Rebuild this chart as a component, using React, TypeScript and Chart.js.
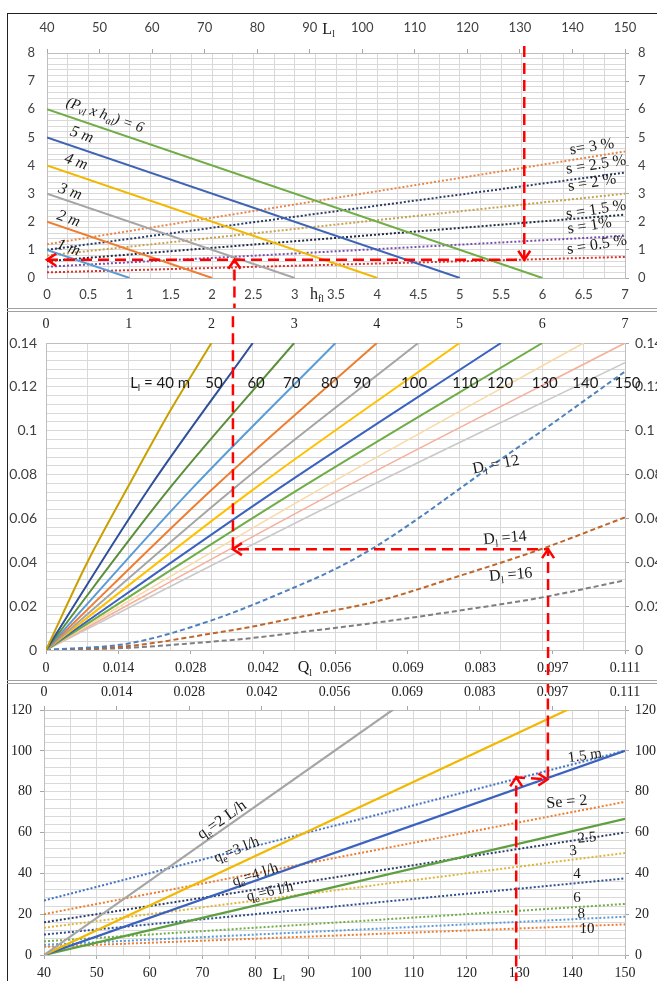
import React, { useEffect, useRef } from 'react';
import { Chart, registerables } from 'chart.js';
Chart.register(...registerables);

// ================= DATA =================
// --- Top panel: (P_vl x h_al) lines, value on y axis at h=0 and h where y=0
const pvhNames = ['1 m', '2 m', '3 m', '4 m', '5 m', '6'];
const pvhYAtH0 = [1, 2, 3, 4, 5, 6];
const pvhHAtY0 = [1, 2, 3, 4, 5, 6];
// --- Top panel: slope lines (against L_l), y at L=40 and at L=150
const slopeNames = ['0.5 %', '1 %', '1.5 %', '2 %', '2.5 %', '3 %'];
const slopeYAtL40 = [0.2, 0.4, 0.6, 0.8, 1.0, 1.2];
const slopeYAtL150 = [0.75, 1.5, 2.25, 3.0, 3.75, 4.5];
// --- Top panel guide lines
const topGuideH = [5.78, 5.78, 0];
const topGuideY = [8.25, 0.65, 0.65];
const topGuide2H = [2.27, 2.27];
const topGuide2Y = [-1.3, 0.65];

// --- Middle panel: L_l curves (x = h_fl, y)
const lLengths = [40, 50, 60, 70, 80, 90, 100, 110, 120, 130, 140, 150];
const lCurveH = [
  [0, 0.5, 1, 1.5, 2],
  [0, 1.25, 2.5],
  [0, 1.5, 3],
  [0, 1.75, 3.5],
  [0, 2, 4],
  [0, 2.25, 4.5],
  [0, 2.5, 5],
  [0, 2.75, 5.5],
  [0, 3, 6],
  [0, 3.25, 6.5],
  [0, 3.5, 7],
  [0, 3.5, 7],
];
const lCurveY = [
  [0, 0.04, 0.075, 0.109, 0.14],
  [0, 0.074, 0.14],
  [0, 0.074, 0.14],
  [0, 0.073, 0.14],
  [0, 0.073, 0.14],
  [0, 0.073, 0.14],
  [0, 0.073, 0.14],
  [0, 0.072, 0.14],
  [0, 0.072, 0.14],
  [0, 0.072, 0.14],
  [0, 0.072, 0.14],
  [0, 0.067, 0.131],
];
// --- Middle panel: D_l curves
const d12H = [0, 1, 2, 3, 3.5, 4, 4.5, 5, 5.5, 6, 6.5, 7];
const d12Y = [0, 0.003, 0.0135, 0.0285, 0.037, 0.0475, 0.06, 0.0735, 0.087, 0.1, 0.1135, 0.127];
const d14H = [0, 1, 2, 2.5, 3, 4, 5, 6, 7];
const d14Y = [0, 0.0018, 0.0075, 0.0107, 0.0146, 0.0222, 0.0338, 0.0462, 0.0605];
const d16H = [0, 1, 2, 2.5, 3, 4, 5, 6, 7];
const d16Y = [0, 0.001, 0.0038, 0.0055, 0.0078, 0.0125, 0.018, 0.024, 0.0318];
// --- Middle panel guide
const midGuideH = [2.26, 2.26, 6.07, 6.07];
const midGuideY = [0.16, 0.046, 0.046, -0.016];

// --- Q_l axis ticks (shared by middle-bottom and bottom-top axes)
const qTickValues = [0, 0.013875, 0.02775, 0.041625, 0.0555, 0.069375, 0.08325, 0.097125, 0.111];
const qTickLabels = ['0', '0.014', '0.028', '0.042', '0.056', '0.069', '0.083', '0.097', '0.111'];

// --- Bottom panel: q_e lines from (40, 0), value at L=150
const qeNames = ['2 L/h', '3 l/h', '4 l/h', '6 l/h'];
const qeYAtL40 = [0, 0, 0, 0];
const qeYAtL150 = [200, 133.3, 100, 66.7];
// --- Bottom panel: Se lines
const seNames = ['1.5 m', '2', '2.5', '3', '4', '6', '8', '10'];
const seYAtL40 = [26.7, 20, 16, 13.3, 10, 6.7, 5, 4];
const seYAtL150 = [100, 75, 60, 50, 37.5, 25, 18.75, 15];
// --- Bottom panel guides
const botGuideL = [129.4, 129.4, 135.3];
const botGuideY = [-14, 87, 86];
const botGuide2L = [135.4, 135.4];
const botGuide2Y = [134, 86];

// ================= STYLE =================
const SANS = 'Lato, "Noto Sans", sans-serif';
const SERIF = '"Liberation Serif", "DejaVu Serif", serif';
const GRID = '#D9D9D9';
const BORDER = '#BFBFBF';
const RED = '#FF0000';

const pvhColors = ['#5B9BD5', '#ED7D31', '#A5A5A5', '#F2B800', '#3F64B5', '#70AD47'];
const slopeColors = ['#E0302A', '#7A4FB0', '#1F2A44', '#C8A24A', '#2A3B66', '#E8864A'];
const lColors = ['#C9A000', '#2F4F9A', '#5A8F3A', '#5B9BD5', '#ED7D31', '#A5A5A5', '#FFC000', '#3A62BE', '#70AD47', '#F9D9A8', '#F4B09A', '#C9C9C9'];
const dColors = ['#4F81BD', '#C0662A', '#7F7F7F'];
const qeColors = ['#A5A5A5', '#F2B800', '#3A62BE', '#5EA040'];
const seColors = ['#4472C4', '#ED7D31', '#2A3B66', '#E0B43A', '#2F4F8F', '#70AD47', '#5B9BD5', '#ED7D31'];

type Note = { x: number; y: number; t: string; rot: number; size: number; font: string; italic?: boolean; xs: string; color?: string };
type Arrow = { x: number; y: number; dir: string; xs: string };

const topNotes: Note[] = [
  { x: 0.7, y: 5.78, t: '(P_{vl} x h_{al}) = 6', rot: 19, size: 15, font: SERIF, italic: true, xs: 'h' },
  { x: 0.42, y: 5.09, t: '5 m', rot: 19, size: 16, font: SERIF, italic: true, xs: 'h' },
  { x: 0.35, y: 4.13, t: '4 m', rot: 19, size: 16, font: SERIF, italic: true, xs: 'h' },
  { x: 0.28, y: 3.06, t: '3 m', rot: 19, size: 16, font: SERIF, italic: true, xs: 'h' },
  { x: 0.26, y: 2.1, t: '2 m', rot: 19, size: 16, font: SERIF, italic: true, xs: 'h' },
  { x: 0.26, y: 1.07, t: '1 m', rot: 19, size: 16, font: SERIF, italic: true, xs: 'h' },
  { x: 6.6, y: 4.66, t: 's= 3 %', rot: -9, size: 16, font: SERIF, xs: 'h' },
  { x: 6.65, y: 4.02, t: 's = 2.5 %', rot: -9, size: 16, font: SERIF, xs: 'h' },
  { x: 6.6, y: 3.38, t: 's = 2 %', rot: -9, size: 16, font: SERIF, xs: 'h' },
  { x: 6.65, y: 2.42, t: 's = 1.5 %', rot: -9, size: 16, font: SERIF, xs: 'h' },
  { x: 6.57, y: 1.85, t: 's = 1%', rot: -9, size: 16, font: SERIF, xs: 'h' },
  { x: 6.66, y: 1.17, t: 's = 0.5 %', rot: -9, size: 16, font: SERIF, xs: 'h' },
  { x: 93.6, y: 8.83, t: 'L_{l}', rot: 0, size: 16, font: SERIF, xs: 'L' },
  { x: 3.27, y: -0.6, t: 'h_{fl}', rot: 0, size: 16, font: SERIF, xs: 'h' },
];
const topArrows: Arrow[] = [
  { x: 5.78, y: 0.65, dir: 'down', xs: 'h' },
  { x: 0, y: 0.65, dir: 'left', xs: 'h' },
  { x: 2.27, y: 0.65, dir: 'up', xs: 'h' },
];

const midNoteXs = [1.38, 2.03, 2.54, 2.97, 3.43, 3.82, 4.45, 5.07, 5.49, 6.03, 6.52, 7.03];
const midNotes: Note[] = lLengths
  .map((L, i) => ({ x: midNoteXs[i], y: 0.1215, t: i === 0 ? 'L_{l} = 40 m' : String(L), rot: 0, size: 15, font: SANS, xs: 'h' } as Note))
  .concat([
    { x: 5.44, y: 0.0844, t: 'D_{l} = 12', rot: -11, size: 16, font: SERIF, xs: 'h' },
    { x: 5.55, y: 0.051, t: 'D_{l} =14', rot: -5, size: 16, font: SERIF, xs: 'h' },
    { x: 5.62, y: 0.0342, t: 'D_{l} =16', rot: -5, size: 16, font: SERIF, xs: 'h' },
    { x: 3.13, y: -0.0083, t: 'Q_{l}', rot: 0, size: 16, font: SERIF, xs: 'h' },
  ]);
const midArrows: Arrow[] = [
  { x: 2.26, y: 0.046, dir: 'left', xs: 'h' },
  { x: 6.07, y: 0.046, dir: 'up', xs: 'h' },
];

const botNotes: Note[] = [
  { x: 73.7, y: 66.1, t: 'q_{e}=2 L/h', rot: -35, size: 16, font: SERIF, xs: 'L' },
  { x: 76.5, y: 51.4, t: 'q_{e}=3 l/h', rot: -22, size: 15, font: SERIF, xs: 'L' },
  { x: 80, y: 39.2, t: 'q_{e}=4 l/h', rot: -18, size: 15, font: SERIF, xs: 'L' },
  { x: 82.8, y: 30.9, t: 'q_{e}=6 l/h', rot: -13, size: 15, font: SERIF, xs: 'L' },
  { x: 142.4, y: 97.5, t: '1.5 m', rot: -8, size: 15, font: SERIF, xs: 'L' },
  { x: 139, y: 74.9, t: 'Se = 2', rot: -5, size: 16, font: SERIF, xs: 'L' },
  { x: 142.8, y: 57.3, t: '2.5', rot: -5, size: 15, font: SERIF, xs: 'L' },
  { x: 140.2, y: 50.9, t: '3', rot: -5, size: 15, font: SERIF, xs: 'L' },
  { x: 140.9, y: 39.7, t: '4', rot: 0, size: 15, font: SERIF, xs: 'L' },
  { x: 140.9, y: 27.9, t: '6', rot: 0, size: 15, font: SERIF, xs: 'L' },
  { x: 141.7, y: 20.1, t: '8', rot: 0, size: 15, font: SERIF, xs: 'L' },
  { x: 142.8, y: 12.7, t: '10', rot: 0, size: 15, font: SERIF, xs: 'L' },
  { x: 84.5, y: -9.8, t: 'L_{l}', rot: 0, size: 16, font: SERIF, xs: 'L' },
];
const botArrows: Arrow[] = [
  { x: 129.4, y: 87, dir: 'up', xs: 'L' },
  { x: 135.3, y: 86, dir: 'right', xs: 'L' },
];

// ================= HELPERS =================
function parseRich(t: string) {
  const parts: { t: string; sub: boolean }[] = [];
  const re = /_\{([^}]*)\}/g;
  let last = 0;
  let m: RegExpExecArray | null = re.exec(t);
  while (m) {
    if (m.index > last) parts.push({ t: t.slice(last, m.index), sub: false });
    parts.push({ t: m[1], sub: true });
    last = m.index + m[0].length;
    m = re.exec(t);
  }
  if (last < t.length) parts.push({ t: t.slice(last), sub: false });
  return parts;
}

function drawRich(ctx: CanvasRenderingContext2D, n: Note, px: number, py: number) {
  const parts = parseRich(n.t);
  const f = (sub: boolean) => (n.italic ? 'italic ' : '') + (sub ? Math.round(n.size * 0.65) : n.size) + 'px ' + n.font;
  ctx.save();
  ctx.translate(px, py);
  ctx.rotate((n.rot * Math.PI) / 180);
  let w = 0;
  parts.forEach((p) => { ctx.font = f(p.sub); w += ctx.measureText(p.t).width; });
  let x = -w / 2;
  ctx.textBaseline = 'middle';
  ctx.textAlign = 'left';
  ctx.fillStyle = n.color || '#1a1a1a';
  parts.forEach((p) => {
    ctx.font = f(p.sub);
    ctx.fillText(p.t, x, p.sub ? n.size * 0.3 : 0);
    x += ctx.measureText(p.t).width;
  });
  ctx.restore();
}

function drawArrow(ctx: CanvasRenderingContext2D, px: number, py: number, dir: string) {
  const ang = dir === 'right' ? 0 : dir === 'down' ? Math.PI / 2 : dir === 'left' ? Math.PI : -Math.PI / 2;
  ctx.save();
  ctx.translate(px, py);
  ctx.rotate(ang);
  ctx.strokeStyle = RED;
  ctx.lineWidth = 2.5;
  ctx.setLineDash([]);
  ctx.beginPath();
  ctx.moveTo(-9, -6);
  ctx.lineTo(0, 0);
  ctx.lineTo(-9, 6);
  ctx.stroke();
  ctx.restore();
}

function annotPlugin(notes: Note[], arrows: Arrow[]) {
  return {
    id: 'annot',
    afterDatasetsDraw(chart: any) {
      const ctx = chart.ctx as CanvasRenderingContext2D;
      const ys = chart.scales.y;
      arrows.forEach((a) => drawArrow(ctx, chart.scales[a.xs].getPixelForValue(a.x), ys.getPixelForValue(a.y), a.dir));
      notes.forEach((n) => drawRich(ctx, n, chart.scales[n.xs].getPixelForValue(n.x), ys.getPixelForValue(n.y)));
    },
  };
}

const pts = (xs: number[], ys: number[]) => xs.map((x, i) => ({ x: x, y: ys[i] }));
const near = (v: number, step: number) => Math.abs(v / step - Math.round(v / step)) < 1e-6;
const fmt = (v: number) => String(parseFloat(v.toFixed(4)));
const NONE = 'rgba(0,0,0,0)';

function line(data: any[], color: string, xAxisID: string, extra?: any) {
  return Object.assign({ data: data, borderColor: color, backgroundColor: color, borderWidth: 2, pointRadius: 0, showLine: true, xAxisID: xAxisID, yAxisID: 'y', fill: false }, extra || {});
}
function guide(data: any[], xAxisID: string) {
  return line(data, RED, xAxisID, { borderWidth: 2.5, borderDash: [11, 6], clip: false });
}

function baseOptions(scales: any) {
  return {
    animation: false,
    responsive: false,
    maintainAspectRatio: false,
    events: [],
    layout: { padding: 0 },
    plugins: { legend: { display: false }, tooltip: { enabled: false } },
    scales: scales,
  };
}

// ================= CONFIGS =================
function topConfig() {
  const datasets: any[] = [];
  datasets.push(guide(pts(topGuideH, topGuideY), 'h'));
  datasets.push(guide(pts(topGuide2H, topGuide2Y), 'h'));
  pvhNames.forEach((_n, i) => datasets.push(line([{ x: 0, y: pvhYAtH0[i] }, { x: pvhHAtY0[i], y: 0 }], pvhColors[i], 'h')));
  slopeNames.forEach((_n, i) => datasets.push(line([{ x: 40, y: slopeYAtL40[i] }, { x: 150, y: slopeYAtL150[i] }], slopeColors[i], 'L', { borderDash: [2, 2] })));
  const tickFont = { family: SANS, size: 13 };
  const scales = {
    h: { axis: 'x', type: 'linear', position: 'bottom', min: 0, max: 7,
      ticks: { stepSize: 0.25, autoSkip: false, maxRotation: 0, padding: 9, font: tickFont, color: '#404040', callback: (v: number) => (near(v, 0.5) ? fmt(v) : '') },
      grid: { color: GRID, drawTicks: false }, border: { color: BORDER },
      afterFit: (s: any) => { s.height = 30; } },
    L: { axis: 'x', type: 'linear', position: 'top', min: 40, max: 150,
      ticks: { stepSize: 10, autoSkip: false, maxRotation: 0, padding: 13, font: tickFont, color: '#404040' },
      grid: { drawOnChartArea: false, drawTicks: true, tickLength: 4, color: '#A6A6A6' }, border: { color: BORDER },
      afterFit: (s: any) => { s.height = 39; } },
    y: { axis: 'y', type: 'linear', position: 'left', min: 0, max: 8,
      ticks: { stepSize: 0.2, autoSkip: false, padding: 12, font: tickFont, color: '#404040', callback: (v: number) => (near(v, 1) ? fmt(v) : '') },
      grid: { color: GRID, drawTicks: false }, border: { color: BORDER },
      afterFit: (s: any) => { s.width = 47; } },
    y2: { axis: 'y', type: 'linear', position: 'right', min: 0, max: 8,
      ticks: { stepSize: 0.2, autoSkip: false, padding: 9, font: tickFont, color: '#404040', callback: (v: number) => (near(v, 1) ? fmt(v) : '') },
      grid: { drawOnChartArea: false, tickLength: 4, tickColor: (c: any) => (c.tick && near(c.tick.value, 1) ? '#A6A6A6' : NONE) }, border: { color: BORDER },
      afterFit: (s: any) => { s.width = 32; } },
  };
  return { type: 'scatter', data: { datasets: datasets }, options: baseOptions(scales), plugins: [annotPlugin(topNotes, topArrows)] };
}

function midConfig() {
  const datasets: any[] = [];
  datasets.push(guide(pts(midGuideH, midGuideY), 'h'));
  lLengths.forEach((_n, i) => datasets.push(line(pts(lCurveH[i], lCurveY[i]), lColors[i], 'h', { cubicInterpolationMode: 'monotone', borderWidth: i >= 9 ? 1.6 : 2 })));
  datasets.push(line(pts(d12H, d12Y), dColors[0], 'h', { borderDash: [5, 3], cubicInterpolationMode: 'monotone' }));
  datasets.push(line(pts(d14H, d14Y), dColors[1], 'h', { borderDash: [5, 3], cubicInterpolationMode: 'monotone' }));
  datasets.push(line(pts(d16H, d16Y), dColors[2], 'h', { borderDash: [5, 3], cubicInterpolationMode: 'monotone' }));
  const sans = { family: SANS, size: 14 };
  const serif = { family: SERIF, size: 14 };
  const scales = {
    h: { axis: 'x', type: 'linear', position: 'top', min: 0, max: 7,
      ticks: { stepSize: 0.5, autoSkip: false, maxRotation: 0, padding: 10, font: serif, color: '#222', callback: (v: number) => (near(v, 1) ? fmt(v) : '') },
      grid: { color: GRID, drawTicks: false }, border: { color: BORDER },
      afterFit: (s: any) => { s.height = 31; } },
    q: { axis: 'x', type: 'linear', position: 'bottom', min: 0, max: 0.111,
      afterBuildTicks: (s: any) => { s.ticks = qTickValues.map((value) => ({ value: value })); },
      ticks: { autoSkip: false, maxRotation: 0, padding: 6, font: serif, color: '#222', callback: (_v: number, i: number) => qTickLabels[i] },
      grid: { drawOnChartArea: false, tickLength: 4, color: '#A6A6A6' }, border: { color: BORDER },
      afterFit: (s: any) => { s.height = 30; } },
    y: { axis: 'y', type: 'linear', position: 'left', min: 0, max: 0.14,
      ticks: { stepSize: 0.004, autoSkip: false, padding: 9, font: sans, color: '#404040', callback: (v: number) => (near(v, 0.02) ? fmt(v) : '') },
      grid: { color: GRID, drawTicks: false }, border: { color: BORDER },
      afterFit: (s: any) => { s.width = 46; } },
    y2: { axis: 'y', type: 'linear', position: 'right', min: 0, max: 0.14,
      ticks: { stepSize: 0.004, autoSkip: false, padding: 6, font: sans, color: '#404040', callback: (v: number) => (near(v, 0.02) ? fmt(v) : '') },
      grid: { drawOnChartArea: false, tickLength: 4, tickColor: (c: any) => (c.tick && near(c.tick.value, 0.02) ? '#A6A6A6' : NONE) }, border: { color: BORDER },
      afterFit: (s: any) => { s.width = 32; } },
  };
  return { type: 'scatter', data: { datasets: datasets }, options: baseOptions(scales), plugins: [annotPlugin(midNotes, midArrows)] };
}

function botConfig() {
  const datasets: any[] = [];
  datasets.push(guide(pts(botGuideL, botGuideY), 'L'));
  datasets.push(guide(pts(botGuide2L, botGuide2Y), 'L'));
  qeNames.forEach((_n, i) => datasets.push(line([{ x: 40, y: qeYAtL40[i] }, { x: 150, y: qeYAtL150[i] }], qeColors[i], 'L', { borderWidth: 2.2 })));
  seNames.forEach((_n, i) => datasets.push(line([{ x: 40, y: seYAtL40[i] }, { x: 150, y: seYAtL150[i] }], seColors[i], 'L', { borderDash: [2, 2] })));
  const serif = { family: SERIF, size: 14 };
  const scales = {
    L: { axis: 'x', type: 'linear', position: 'bottom', min: 40, max: 150,
      ticks: { stepSize: 5, autoSkip: false, maxRotation: 0, padding: 6, font: serif, color: '#222', callback: (v: number) => (near(v, 10) ? fmt(v) : '') },
      grid: { color: GRID, tickLength: 4, tickColor: (c: any) => (c.tick && near(c.tick.value, 10) ? '#A6A6A6' : NONE) }, border: { color: BORDER },
      afterFit: (s: any) => { s.height = 26; } },
    q: { axis: 'x', type: 'linear', position: 'top', min: 0, max: 0.111,
      afterBuildTicks: (s: any) => { s.ticks = qTickValues.map((value) => ({ value: value })); },
      ticks: { autoSkip: false, maxRotation: 0, padding: 5, font: serif, color: '#222', callback: (_v: number, i: number) => qTickLabels[i] },
      grid: { drawOnChartArea: false, tickLength: 4, color: '#A6A6A6' }, border: { color: BORDER },
      afterFit: (s: any) => { s.height = 26; } },
    y: { axis: 'y', type: 'linear', position: 'left', min: 0, max: 120,
      ticks: { stepSize: 4, autoSkip: false, padding: 8, font: serif, color: '#222', callback: (v: number) => (near(v, 20) ? fmt(v) : '') },
      grid: { color: GRID, tickLength: 4, tickColor: (c: any) => (c.tick && near(c.tick.value, 20) ? '#A6A6A6' : NONE) }, border: { color: BORDER },
      afterFit: (s: any) => { s.width = 44; } },
    y2: { axis: 'y', type: 'linear', position: 'right', min: 0, max: 120,
      ticks: { stepSize: 4, autoSkip: false, padding: 6, font: serif, color: '#222', callback: (v: number) => (near(v, 20) ? fmt(v) : '') },
      grid: { drawOnChartArea: false, tickLength: 4, tickColor: (c: any) => (c.tick && near(c.tick.value, 20) ? '#A6A6A6' : NONE) }, border: { color: BORDER },
      afterFit: (s: any) => { s.width = 32; } },
  };
  return { type: 'scatter', data: { datasets: datasets }, options: baseOptions(scales), plugins: [annotPlugin(botNotes, botArrows)] };
}

// ================= COMPONENTS =================
function Panel(props: { top: number; height: number; make: () => any }) {
  const ref = useRef<HTMLCanvasElement>(null);
  const make = props.make;
  useEffect(() => {
    const el = ref.current;
    if (!el) return;
    const chart = new Chart(el, make());
    return () => chart.destroy();
  }, [make]);
  return (
    <canvas
      ref={ref}
      width={657}
      height={props.height}
      style={{ position: 'absolute', left: 0, top: props.top, width: 657, height: props.height, display: 'block' }}
    />
  );
}

export default function App() {
  return (
    <div style={{ position: 'absolute', left: 0, top: 0, width: 657, height: 981, background: '#fff', overflow: 'hidden' }}>
      <Panel top={14} height={294} make={topConfig} />
      <Panel top={312} height={368} make={midConfig} />
      <Panel top={684} height={297} make={botConfig} />
      <div style={{ position: 'absolute', left: 7, top: 13, width: 650, height: 1, background: '#222' }} />
      <div style={{ position: 'absolute', left: 7, top: 13, width: 1, height: 968, background: '#222' }} />
      <div style={{ position: 'absolute', left: 7, top: 308, width: 650, height: 1, background: '#A0A0A0' }} />
      <div style={{ position: 'absolute', left: 7, top: 311, width: 650, height: 1, background: '#A0A0A0' }} />
      <div style={{ position: 'absolute', left: 7, top: 680, width: 650, height: 1, background: '#A0A0A0' }} />
      <div style={{ position: 'absolute', left: 7, top: 683, width: 650, height: 1, background: '#A0A0A0' }} />
    </div>
  );
}
